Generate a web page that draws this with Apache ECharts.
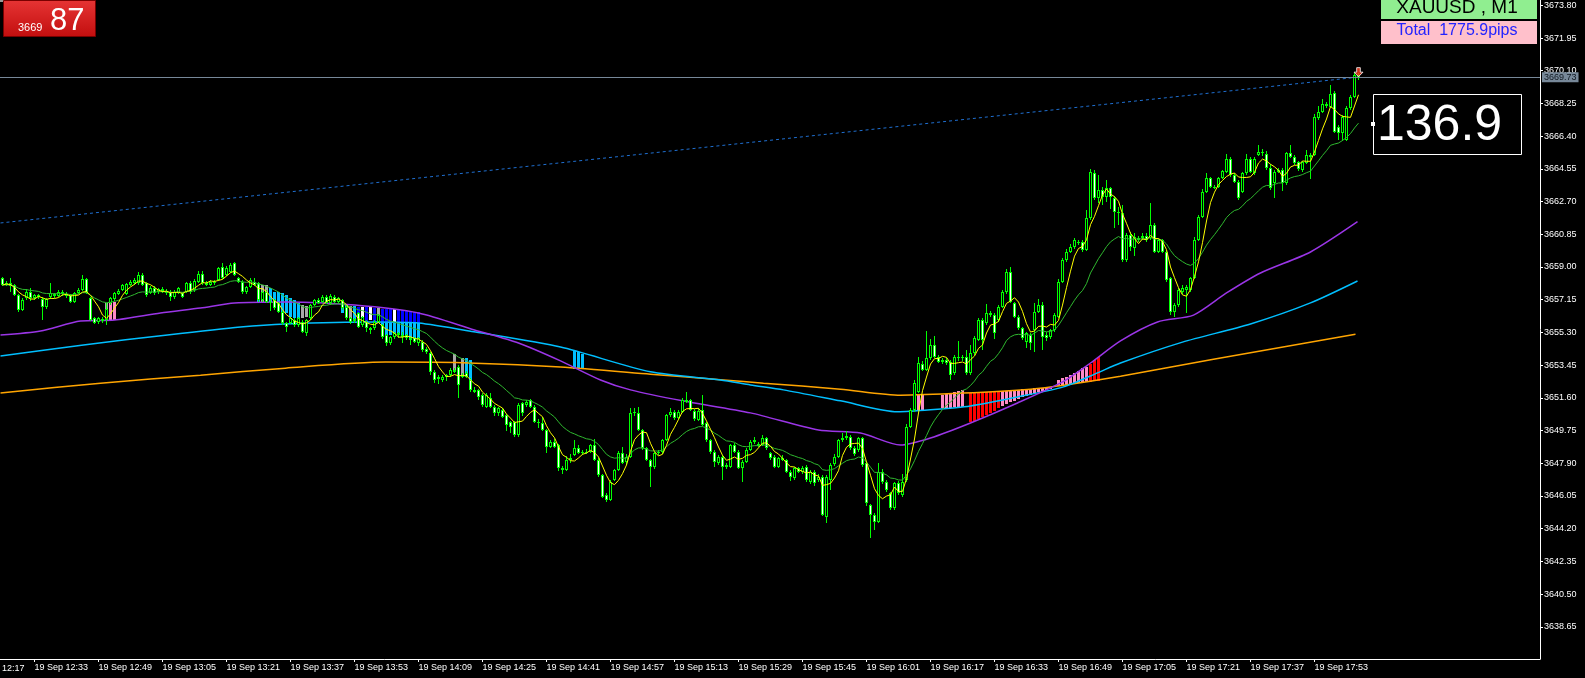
<!DOCTYPE html>
<html><head><meta charset="utf-8">
<script src="https://cdn.jsdelivr.net/npm/echarts@6/dist/echarts.min.js"></script>
<style>html,body{margin:0;padding:0;background:#000;}#c{width:1585px;height:678px;}</style>
</head><body><div id="c"></div>
<script>
// ---------- texts ----------
const symbolText = 'XAUUSD , M1';
const totalText = 'Total  1775.9pips';
const bigValueText = '136.9';
const boxPriceBig = '87';
const boxPriceSmall = '3669';
const bidPrice = 3669.73;

// ---------- axis ticks ----------
const xTickIdx = [8,24,40,56,72,88,104,120,136,152,168,184,200,216,232,248,264,280,296,312,328];
const xTickLabels = ['19 Sep 12:33','19 Sep 12:49','19 Sep 13:05','19 Sep 13:21','19 Sep 13:37','19 Sep 13:53','19 Sep 14:09','19 Sep 14:25','19 Sep 14:41','19 Sep 14:57','19 Sep 15:13','19 Sep 15:29','19 Sep 15:45','19 Sep 16:01','19 Sep 16:17','19 Sep 16:33','19 Sep 16:49','19 Sep 17:05','19 Sep 17:21','19 Sep 17:37','19 Sep 17:53'];
const leftCutLabel = '12:17';
const yTicks = [3638.65,3640.50,3642.35,3644.20,3646.05,3647.90,3649.75,3651.60,3653.45,3655.30,3657.15,3659.00,3660.85,3662.70,3664.55,3666.40,3668.25,3670.10,3671.95,3673.80];

// ---------- M1 candles [open, close, low, high], one per minute from 12:25 ----------
const candles = [
[3658.36,3657.98,3657.90,3658.45],[3658.00,3658.10,3657.90,3658.20],[3658.10,3657.90,3657.60,3658.36],[3657.98,3657.41,3657.35,3658.05],
[3657.41,3656.57,3656.45,3657.50],[3656.57,3657.13,3656.50,3657.25],[3657.23,3657.60,3657.15,3657.75],[3657.60,3657.23,3657.10,3657.80],
[3657.23,3657.41,3657.15,3657.50],[3657.41,3657.32,3657.20,3657.50],[3657.17,3656.72,3656.00,3657.30],[3656.72,3657.17,3656.65,3657.25],
[3657.32,3657.51,3657.20,3658.07],[3657.45,3657.36,3657.25,3657.55],[3657.36,3657.60,3657.30,3657.70],[3657.60,3657.45,3657.35,3657.70],
[3657.45,3657.35,3657.25,3657.60],[3657.41,3657.04,3656.95,3657.50],[3657.04,3657.51,3656.95,3657.60],[3657.51,3657.70,3657.45,3657.80],
[3657.70,3658.30,3657.65,3658.55],[3658.30,3657.51,3657.45,3658.40],[3657.23,3656.00,3655.95,3657.30],[3656.09,3655.85,3655.75,3656.15],
[3655.91,3656.09,3655.80,3656.20],[3656.05,3655.95,3655.85,3656.15],[3656.00,3656.60,3655.72,3656.94],[3656.94,3657.23,3656.85,3657.30],
[3657.17,3657.51,3657.10,3657.60],[3657.47,3657.66,3657.40,3657.75],[3657.70,3657.98,3657.65,3658.05],[3657.47,3658.04,3657.40,3658.10],
[3657.98,3658.17,3657.90,3658.25],[3658.07,3658.26,3658.00,3658.35],[3658.07,3658.55,3658.00,3658.73],[3658.55,3657.98,3657.90,3658.65],
[3658.07,3657.41,3657.30,3658.15],[3657.51,3657.79,3657.45,3657.90],[3657.79,3657.51,3657.40,3657.90],[3657.60,3657.74,3657.50,3657.80],
[3657.74,3657.62,3657.55,3657.85],[3657.66,3657.51,3657.40,3657.75],[3657.60,3657.32,3657.10,3657.70],[3657.32,3657.60,3657.20,3657.70],
[3657.51,3657.79,3657.45,3657.85],[3657.51,3657.32,3657.25,3657.60],[3657.60,3658.07,3657.55,3658.15],[3658.07,3657.60,3657.50,3658.20],
[3657.70,3658.23,3657.60,3658.30],[3658.17,3658.60,3658.10,3658.75],[3658.60,3658.07,3658.00,3658.80],[3658.07,3657.98,3657.90,3658.20],
[3657.98,3658.17,3657.90,3658.25],[3658.17,3658.07,3658.00,3658.25],[3658.26,3658.92,3658.20,3659.00],[3659.02,3658.36,3658.30,3659.20],
[3658.55,3658.92,3658.50,3659.05],[3658.73,3659.11,3658.65,3659.20],[3659.21,3658.55,3658.50,3659.30],[3658.36,3658.17,3658.10,3658.45],
[3658.17,3657.60,3657.50,3658.25],[3657.60,3657.89,3657.45,3657.95],[3657.89,3658.26,3657.80,3658.35],[3658.17,3658.00,3657.90,3658.40],
[3658.07,3657.13,3657.00,3658.15],[3657.13,3657.60,3657.00,3657.70],[3657.60,3657.04,3656.95,3657.70],[3657.04,3656.94,3656.50,3657.20],
[3657.13,3656.66,3656.55,3657.20],[3656.94,3656.47,3656.40,3657.00],[3656.47,3655.81,3655.70,3656.55],[3655.81,3655.62,3655.34,3655.90],
[3655.81,3656.09,3655.75,3656.15],[3656.00,3655.71,3655.60,3656.10],[3655.71,3656.09,3655.60,3656.15],[3655.90,3655.34,3655.25,3656.00],
[3655.24,3656.00,3655.10,3656.05],[3656.09,3656.85,3656.00,3656.90],[3656.85,3657.13,3656.80,3657.20],[3657.13,3656.98,3656.90,3657.25],
[3657.03,3657.32,3656.95,3657.40],[3657.32,3656.98,3656.90,3657.40],[3656.94,3657.37,3656.85,3657.50],[3657.32,3657.03,3656.95,3657.40],
[3657.03,3657.22,3656.95,3657.30],[3657.13,3656.66,3656.55,3657.20],[3656.75,3656.09,3656.00,3656.85],[3656.09,3655.90,3655.80,3656.20],
[3655.92,3656.04,3655.85,3656.10],[3656.37,3655.62,3655.55,3656.45],[3655.71,3656.19,3655.60,3656.25],[3655.90,3655.53,3655.30,3656.00],
[3655.53,3655.43,3655.20,3655.60],[3655.53,3655.90,3655.45,3656.00],[3655.90,3656.28,3655.85,3656.35],[3655.71,3655.05,3654.90,3655.80],
[3655.15,3654.68,3654.55,3655.20],[3654.68,3655.05,3654.60,3655.10],[3655.05,3655.24,3654.95,3655.30],[3655.24,3655.15,3655.00,3655.30],
[3655.15,3655.05,3654.70,3655.30],[3655.15,3654.96,3654.85,3655.20],[3654.96,3654.87,3654.60,3655.05],[3654.96,3654.77,3654.70,3655.05],
[3654.68,3654.96,3654.55,3655.05],[3654.77,3654.30,3654.20,3654.85],[3654.39,3654.21,3654.10,3654.50],[3654.11,3653.08,3652.90,3654.20],
[3653.08,3652.60,3652.45,3653.15],[3652.79,3652.65,3652.40,3652.90],[3652.60,3652.79,3652.50,3652.90],[3652.79,3652.89,3652.55,3652.95],
[3652.89,3653.17,3652.80,3653.30],[3653.17,3653.08,3653.00,3653.30],[3653.36,3652.30,3651.57,3653.45],[3652.79,3652.89,3652.70,3653.00],
[3652.98,3652.79,3652.70,3653.10],[3652.60,3652.04,3651.95,3652.70],[3652.04,3651.94,3651.85,3652.20],[3652.04,3651.66,3651.50,3652.10],
[3651.76,3651.19,3651.10,3651.85],[3651.10,3651.76,3651.00,3651.85],[3651.57,3651.10,3651.00,3651.90],[3651.10,3650.72,3650.60,3651.20],
[3650.72,3651.00,3650.60,3651.10],[3650.91,3650.53,3650.45,3651.00],[3650.62,3650.06,3649.70,3650.70],[3650.25,3649.96,3649.60,3650.30],
[3650.25,3649.49,3649.40,3650.30],[3649.49,3651.19,3649.40,3651.30],[3651.28,3650.72,3650.60,3651.35],[3651.19,3651.38,3651.10,3651.50],
[3651.47,3651.10,3651.00,3651.55],[3651.10,3650.25,3650.15,3651.20],[3650.25,3650.15,3649.90,3650.40],[3650.15,3649.78,3649.70,3650.50],
[3649.78,3648.83,3648.50,3649.85],[3648.83,3649.12,3648.75,3649.20],[3649.12,3648.83,3648.75,3649.30],[3648.93,3647.61,3647.45,3649.00],
[3647.61,3647.52,3647.30,3647.75],[3647.52,3648.09,3647.45,3648.30],[3648.09,3648.18,3647.90,3648.40],[3648.37,3648.74,3648.30,3649.20],
[3648.74,3648.46,3648.40,3648.95],[3648.46,3648.56,3648.35,3648.65],[3648.56,3648.46,3648.40,3648.70],[3648.56,3648.93,3648.50,3649.00],
[3648.93,3648.09,3648.00,3649.30],[3648.09,3647.24,3647.15,3648.20],[3647.24,3646.01,3645.95,3647.30],[3646.11,3645.82,3645.70,3646.20],
[3645.82,3646.86,3645.75,3646.95],[3646.95,3647.52,3646.90,3647.60],[3647.52,3648.46,3647.45,3648.60],[3648.46,3647.90,3647.85,3648.80],
[3647.99,3648.27,3647.80,3648.40],[3648.27,3650.72,3648.20,3651.00],[3650.72,3650.82,3650.60,3651.00],[3650.72,3649.78,3649.70,3651.10],
[3649.78,3648.74,3648.65,3649.85],[3648.74,3648.09,3648.00,3648.80],[3648.09,3647.71,3646.58,3648.15],[3647.71,3648.46,3647.60,3648.55],
[3648.46,3648.56,3648.35,3648.65],[3648.56,3649.22,3648.45,3649.30],[3649.22,3650.63,3649.15,3650.70],[3650.63,3650.82,3650.50,3651.00],
[3650.78,3650.44,3650.35,3650.90],[3650.44,3650.78,3650.35,3650.90],[3650.82,3651.48,3650.75,3651.60],[3651.48,3651.38,3651.30,3651.95],
[3651.48,3650.91,3650.85,3651.55],[3650.88,3650.39,3650.30,3650.95],[3650.35,3650.88,3650.30,3651.00],[3650.91,3650.06,3650.00,3651.76],
[3650.16,3649.22,3649.10,3650.25],[3649.22,3648.56,3648.45,3649.30],[3648.56,3647.99,3647.70,3648.65],[3647.90,3648.27,3647.80,3648.35],
[3648.27,3647.71,3646.95,3648.35],[3647.71,3647.80,3647.60,3647.90],[3647.71,3648.93,3647.65,3649.00],[3648.93,3648.56,3648.50,3649.05],
[3648.56,3647.61,3647.55,3648.65],[3647.61,3647.99,3646.86,3648.10],[3647.99,3648.65,3647.90,3648.75],[3648.65,3649.12,3648.60,3649.20],
[3649.12,3649.22,3649.00,3649.40],[3649.00,3648.88,3648.80,3649.10],[3648.93,3649.31,3648.85,3649.50],[3649.31,3648.74,3648.65,3649.40],
[3648.46,3648.18,3648.10,3648.55],[3648.27,3647.71,3647.65,3648.35],[3647.71,3648.18,3647.65,3648.25],[3648.18,3648.09,3648.00,3648.35],
[3648.09,3647.43,3647.35,3648.15],[3647.43,3647.14,3646.90,3647.50],[3647.05,3647.61,3646.95,3647.70],[3647.61,3647.43,3647.35,3647.70],
[3647.43,3647.61,3647.30,3647.75],[3647.71,3646.95,3646.85,3647.80],[3646.86,3647.43,3646.75,3647.50],[3647.43,3646.77,3646.60,3647.50],
[3646.95,3647.14,3646.85,3647.30],[3647.14,3644.97,3644.90,3647.25],[3644.88,3647.14,3644.50,3647.25],[3646.95,3647.80,3646.40,3647.90],
[3647.85,3648.27,3647.75,3648.40],[3648.27,3649.21,3648.20,3649.30],[3649.21,3649.31,3649.10,3649.60],[3649.31,3649.44,3649.20,3649.70],
[3649.40,3648.74,3648.65,3649.50],[3648.74,3648.40,3648.30,3648.85],[3648.65,3649.31,3648.55,3649.40],[3649.31,3647.80,3647.70,3649.40],
[3647.89,3645.63,3645.50,3648.00],[3645.54,3644.97,3643.65,3645.60],[3644.97,3644.59,3644.10,3645.10],[3644.59,3647.42,3644.50,3647.89],
[3647.42,3646.86,3646.75,3647.60],[3646.86,3646.38,3646.30,3646.95],[3646.20,3645.35,3645.25,3646.30],[3645.35,3646.76,3645.25,3646.85],
[3646.76,3646.20,3646.10,3646.90],[3646.10,3646.86,3646.00,3647.30],[3646.95,3649.97,3646.85,3650.10],[3649.97,3650.91,3649.90,3651.00],
[3650.91,3652.42,3650.80,3652.60],[3651.95,3653.55,3651.85,3653.90],[3653.51,3653.17,3653.10,3653.70],[3653.17,3653.83,3653.10,3655.40],
[3653.83,3654.59,3653.75,3654.90],[3654.59,3653.93,3653.85,3655.10],[3653.93,3653.64,3653.55,3654.05],[3653.64,3653.74,3653.50,3653.85],
[3653.74,3653.55,3653.45,3653.85],[3653.64,3652.89,3652.60,3653.75],[3652.98,3653.93,3652.90,3654.00],[3653.93,3653.83,3653.70,3654.80],
[3653.83,3653.93,3653.70,3654.05],[3653.93,3652.98,3652.90,3654.30],[3652.98,3654.12,3652.90,3654.60],[3654.12,3654.96,3654.05,3655.10],
[3654.87,3656.00,3654.80,3656.10],[3656.00,3654.87,3654.30,3656.10],[3655.81,3656.38,3655.70,3656.90],[3656.28,3656.38,3656.20,3656.50],
[3656.28,3655.25,3654.90,3656.40],[3656.00,3656.75,3655.90,3656.85],[3656.75,3657.60,3656.70,3657.70],[3657.60,3658.73,3657.50,3658.90],
[3658.73,3657.04,3656.95,3659.00],[3656.94,3656.19,3656.10,3657.00],[3656.19,3655.53,3655.45,3656.30],[3655.53,3654.96,3654.85,3655.60],
[3654.77,3655.25,3654.40,3655.35],[3655.15,3654.68,3654.30,3655.25],[3655.43,3656.47,3654.20,3656.94],[3656.47,3656.85,3656.40,3657.20],
[3656.85,3655.06,3654.30,3657.00],[3655.15,3654.96,3654.80,3655.30],[3655.06,3655.43,3654.90,3655.50],[3655.43,3656.28,3655.35,3656.40],
[3656.19,3658.17,3656.10,3658.30],[3658.17,3659.39,3658.10,3659.50],[3659.39,3659.87,3659.30,3660.00],[3659.87,3660.11,3659.80,3660.30],
[3660.11,3660.53,3660.00,3660.65],[3660.43,3660.34,3660.25,3660.55],[3660.43,3659.96,3659.85,3660.55],[3659.96,3661.75,3659.90,3662.22],
[3661.75,3664.39,3661.65,3664.55],[3664.30,3662.88,3662.80,3664.50],[3662.88,3663.35,3662.60,3664.20],[3663.35,3662.98,3662.50,3663.50],
[3662.98,3663.45,3662.70,3663.90],[3663.45,3662.98,3662.30,3663.55],[3662.88,3662.13,3661.20,3663.00],[3662.13,3662.03,3661.40,3662.40],
[3662.03,3659.40,3659.30,3662.50],[3659.40,3660.81,3659.30,3660.90],[3660.81,3660.15,3659.90,3661.00],[3660.06,3660.71,3659.60,3660.90],
[3660.62,3660.53,3660.40,3660.75],[3660.62,3660.75,3660.50,3660.90],[3660.75,3660.53,3660.40,3660.90],[3660.62,3661.37,3660.50,3662.60],
[3661.37,3659.87,3659.80,3661.50],[3659.87,3660.53,3659.80,3660.60],[3660.53,3659.87,3659.80,3660.60],[3659.87,3658.26,3658.15,3659.95],
[3658.36,3656.47,3656.30,3658.45],[3656.47,3656.85,3656.20,3656.95],[3656.85,3657.70,3656.75,3657.80],[3657.60,3657.83,3657.50,3658.00],
[3657.70,3657.89,3656.40,3658.00],[3657.70,3658.36,3657.60,3658.45],[3658.36,3660.53,3658.30,3660.70],[3660.53,3661.85,3660.45,3661.95],
[3661.85,3663.26,3661.75,3663.40],[3663.26,3664.01,3663.20,3664.30],[3664.01,3663.54,3663.45,3664.10],[3663.54,3663.49,3663.40,3663.65],
[3663.54,3664.01,3663.45,3664.10],[3664.01,3664.43,3663.95,3664.50],[3664.39,3665.11,3664.30,3665.40],[3665.11,3664.20,3664.10,3665.20],
[3664.20,3663.83,3663.75,3664.30],[3663.83,3662.88,3662.80,3663.90],[3663.26,3664.30,3663.20,3664.40],[3664.30,3665.11,3664.20,3665.40],
[3665.11,3664.39,3664.30,3665.20],[3664.30,3665.11,3664.20,3665.20],[3665.33,3665.48,3665.25,3665.90],[3665.48,3665.43,3665.30,3665.70],
[3665.38,3664.58,3664.50,3665.55],[3664.58,3663.45,3663.35,3664.80],[3663.73,3664.39,3662.90,3664.50],[3664.39,3664.49,3664.30,3664.60],
[3664.49,3663.73,3663.30,3664.60],[3663.73,3665.43,3663.65,3665.50],[3665.43,3665.24,3665.15,3665.90],[3665.24,3664.86,3664.75,3665.35],
[3664.92,3664.54,3664.45,3665.00],[3664.49,3664.92,3664.40,3665.00],[3664.86,3665.33,3664.80,3665.60],[3665.33,3665.24,3664.00,3665.45],
[3665.33,3667.50,3665.25,3667.65],[3667.41,3667.79,3667.30,3668.10],[3667.79,3668.20,3667.70,3668.50],[3668.20,3668.12,3668.00,3668.35],
[3668.07,3668.77,3668.00,3669.29],[3668.82,3666.65,3666.55,3668.95],[3666.94,3666.56,3666.20,3667.05],[3666.56,3667.50,3666.10,3667.60],
[3666.18,3667.97,3666.10,3668.10],[3667.97,3668.63,3667.90,3668.75],[3668.63,3669.86,3668.55,3669.95],[3669.86,3669.73,3669.60,3669.97]
];

// ---------- slow moving averages [barIndex, price] ----------
const purpleMA = [[-0.5,3655.15],[9.5,3655.38],[19.5,3655.94],[28,3656.00],[39.5,3656.40],[49.5,3656.68],[58,3656.96],[71,3657.02],[88,3656.85],[104,3656.40],[118,3655.44],[129,3654.70],[139.5,3653.69],[149.5,3652.61],[157,3652.05],[170,3651.43],[187,3650.75],[204,3649.78],[214.5,3649.61],[224.5,3648.93],[232,3649.33],[242,3650.18],[253.75,3651.31],[265,3652.50],[272,3653.57],[279.5,3654.82],[288.75,3655.89],[297.75,3656.28],[306,3657.53],[314.5,3658.66],[327,3659.85],[338.75,3661.56]];
const cyanMA = [[-0.5,3653.97],[20.25,3654.59],[41.25,3655.16],[59.5,3655.61],[70.75,3655.78],[93.25,3655.89],[104,3655.83],[118.25,3655.32],[139.5,3654.47],[162,3653.07],[179.5,3652.61],[187,3652.33],[195.25,3652.05],[209.5,3651.43],[223.75,3650.81],[232,3650.92],[242,3651.14],[253.75,3651.65],[265.25,3652.22],[273.75,3653.01],[279.5,3653.57],[295,3654.75],[312,3655.78],[327,3656.97],[338.75,3658.21]];
const orangeMA = [[-0.5,3651.87],[24.5,3652.43],[49.5,3652.88],[70.75,3653.28],[95.75,3653.62],[118.25,3653.56],[139.5,3653.34],[162,3652.94],[180.25,3652.61],[190.25,3652.43],[209.5,3652.09],[224.5,3651.75],[240.25,3651.87],[257,3652.09],[265.25,3652.31],[279.5,3652.82],[302.75,3653.78],[338.25,3655.20]];
const trendLine = [[-0.5,3661.49],[339,3669.74]];
const arrowMark = [[339,3670.02]];

// ---------- indicator histogram segments [barIndex, top, bottom, colourKey] ----------
const hist = [
[26,3656.94,3655.96,'g'],[27,3656.98,3655.96,'p'],[28,3657.04,3656.00,'p'],
[64,3658.07,3657.00,'c'],[65,3657.98,3657.04,'g'],[66,3657.98,3657.04,'g'],[67,3657.79,3657.00,'c'],[68,3657.60,3657.00,'c'],
[69,3657.60,3656.47,'c'],[70,3657.51,3655.81,'c'],[71,3657.41,3656.37,'c'],[72,3657.22,3656.19,'c'],[73,3657.13,3656.09,'c'],
[74,3656.94,3656.00,'c'],[75,3656.85,3656.09,'g'],[76,3656.79,3656.19,'g'],
[85,3656.85,3656.37,'c'],[86,3656.85,3656.19,'c'],[87,3656.79,3656.09,'g'],[88,3656.79,3656.00,'c'],[89,3656.75,3655.90,'b'],
[90,3656.75,3656.09,'w'],[91,3656.71,3655.90,'b'],[92,3656.71,3656.00,'w'],[93,3656.68,3655.85,'b'],[94,3656.68,3655.90,'g'],
[95,3656.64,3655.81,'b'],[96,3656.64,3655.81,'b'],[97,3656.60,3655.81,'b'],[98,3656.60,3655.81,'w'],[99,3656.56,3655.81,'b'],
[100,3656.56,3655.81,'b'],[101,3656.53,3655.81,'b'],[102,3656.51,3655.81,'b'],[103,3656.47,3655.81,'b'],[104,3656.43,3655.81,'b'],
[95,3655.81,3655.15,'c'],[96,3655.81,3655.05,'c'],[97,3655.81,3655.15,'c'],[98,3655.81,3655.24,'c'],[99,3655.81,3655.24,'c'],
[100,3655.81,3655.15,'c'],[101,3655.81,3655.05,'c'],[102,3655.81,3654.96,'c'],[103,3655.81,3654.87,'c'],[104,3655.81,3654.77,'c'],
[113,3654.07,3653.10,'g'],[115,3653.83,3652.80,'g'],[116,3653.83,3652.90,'c'],[117,3653.75,3652.60,'c'],
[143,3654.25,3653.25,'c'],[144,3654.22,3653.25,'c'],[145,3654.10,3653.30,'c'],
[229,3651.76,3650.87,'p'],[230,3651.76,3650.87,'p'],
[235,3651.76,3651.00,'p'],[236,3651.80,3651.02,'p'],[237,3651.85,3651.04,'p'],[238,3651.91,3651.06,'p'],[239,3651.98,3651.08,'p'],[240,3652.04,3651.10,'p'],
[242,3651.85,3650.25,'r'],[243,3651.85,3650.31,'r'],[244,3651.89,3650.38,'r'],[245,3651.89,3650.53,'r'],[246,3651.91,3650.63,'r'],
[247,3651.93,3650.72,'r'],[248,3651.95,3650.87,'r'],[249,3651.97,3651.00,'r'],
[250,3651.98,3651.14,'p'],[251,3652.00,3651.25,'p'],[252,3652.02,3651.34,'p'],[253,3652.04,3651.44,'p'],[254,3652.06,3651.53,'p'],
[255,3652.08,3651.63,'p'],[256,3652.10,3651.70,'p'],[257,3652.12,3651.78,'p'],[258,3652.14,3651.85,'p'],[259,3652.15,3651.91,'p'],
[260,3652.18,3651.97,'p'],[261,3652.19,3652.04,'p'],[262,3652.23,3652.12,'p'],
[264,3652.61,3652.27,'p'],[265,3652.70,3652.29,'p'],[266,3652.80,3652.31,'p'],[267,3652.89,3652.34,'p'],[268,3652.98,3652.38,'p'],
[269,3653.13,3652.42,'p'],[270,3653.27,3652.46,'p'],[271,3653.36,3652.49,'p'],
[272,3653.51,3652.51,'r'],[273,3653.74,3652.53,'r'],[274,3653.93,3652.57,'r']
];
const histColors = {c:'#00bfff', g:'#a8a8a8', p:'#ff8ac6', r:'#ff0000', b:'#0000ff', w:'#ffffff'};

// ---------- build ----------
const candleData = candles.map((b, i) => [i, b[0], b[1], b[2], b[3]]);
const closes = candles.map(b => b[1]);
const ma5 = closes.map((c, i) => { const s = Math.max(0, i - 4); let sum = 0; for (let k = s; k <= i; k++) sum += closes[k]; return [i, sum / (i - s + 1)]; });
let ema = closes[0]; const kE = 2 / 21;
const ema20 = closes.map((c, i) => { ema = i === 0 ? c : ema + kE * (c - ema); return [i, ema]; });

const FONT = '"Liberation Sans", Arial, sans-serif';
const chart = echarts.init(document.getElementById('c'), null, {renderer: 'canvas'});

const option = {
  backgroundColor: '#000',
  animation: false,
  grid: {left: 0, top: 0, width: 1540, height: 659},
  xAxis: {
    type: 'value', min: -0.625, max: 384.375,
    axisLine: {show: true, onZero: false, lineStyle: {color: '#ffffff', width: 1}},
    axisTick: {show: true, customValues: xTickIdx, length: 3, lineStyle: {color: '#ffffff'}},
    axisLabel: {customValues: xTickIdx, formatter: v => xTickLabels[xTickIdx.indexOf(v)] || '', color: '#ffffff', fontSize: 9, fontFamily: FONT, align: 'left', margin: 4},
    splitLine: {show: false}
  },
  yAxis: {
    type: 'value', position: 'right', min: 3636.83, max: 3674.10,
    axisLine: {show: true, onZero: false, lineStyle: {color: '#ffffff', width: 1}},
    axisTick: {show: true, customValues: yTicks, length: 3, lineStyle: {color: '#ffffff'}},
    axisLabel: {customValues: yTicks, formatter: v => v.toFixed(2), color: '#ffffff', fontSize: 9, fontFamily: FONT, margin: 4},
    splitLine: {show: false}
  },
  series: [
    {
      type: 'custom', name: 'hist', z: 1, clip: true,
      data: hist.map(h => [h[0], h[1], h[2]]),
      encode: {x: 0, y: [1, 2]},
      renderItem: (params, api) => {
        const i = api.value(0);
        const p1 = api.coord([i, api.value(1)]), p2 = api.coord([i, api.value(2)]);
        const x = Math.floor(p1[0]);
        const top = Math.round(Math.min(p1[1], p2[1])), bot = Math.round(Math.max(p1[1], p2[1]));
        return {type: 'rect', shape: {x: x - 1, y: top, width: 3, height: Math.max(1, bot - top)}, style: {fill: histColors[hist[params.dataIndex][3]]}};
      }
    },
    {type: 'line', name: 'MA slow 1', data: orangeMA, z: 2, showSymbol: false, symbol: 'none', smooth: 0.25, lineStyle: {color: '#ffa500', width: 1.5}},
    {type: 'line', name: 'MA slow 2', data: cyanMA, z: 2, showSymbol: false, symbol: 'none', smooth: 0.25, lineStyle: {color: '#00bfff', width: 1.5}},
    {type: 'line', name: 'MA slow 3', data: purpleMA, z: 2, showSymbol: false, symbol: 'none', smooth: 0.25, lineStyle: {color: '#9a35e6', width: 1.5}},
    {
      type: 'line', name: 'trend', data: trendLine, z: 2, showSymbol: false, symbol: 'none',
      lineStyle: {color: '#1f6fd0', width: 1, type: [3, 3]},
      markLine: {
        silent: true, symbol: ['none', 'none'], animation: false,
        data: [{yAxis: bidPrice}],
        lineStyle: {color: '#778899', type: 'solid', width: 1},
        label: {show: true, position: 'end', formatter: bidPrice.toFixed(2), color: '#101820', backgroundColor: '#778899', fontSize: 9, fontFamily: FONT, padding: [1, 2, 0, 2], distance: 2}
      }
    },
    {
      type: 'custom', name: 'candles', z: 3, clip: true,
      data: candleData, encode: {x: 0, y: [1, 2, 3, 4]},
      renderItem: (params, api) => {
        const i = api.value(0), o = api.value(1), c = api.value(2), l = api.value(3), h = api.value(4);
        const po = api.coord([i, o]), pc = api.coord([i, c]), pl = api.coord([i, l]), ph = api.coord([i, h]);
        const x = Math.floor(po[0]) + 0.5;
        let top = Math.round(Math.min(po[1], pc[1])), bot = Math.round(Math.max(po[1], pc[1]));
        if (bot - top < 1) bot = top + 1;
        const children = [
          {type: 'line', shape: {x1: x, y1: Math.round(ph[1]), x2: x, y2: Math.round(pl[1])}, style: {stroke: '#00ff00', lineWidth: 1}},
          {type: 'rect', shape: {x: x - 1.5, y: top, width: 3, height: bot - top}, style: {fill: '#00ff00'}}
        ];
        if (bot - top >= 3) children.push({type: 'rect', shape: {x: x - 0.5, y: top + 1, width: 1, height: bot - top - 2}, style: {fill: c >= o ? '#000000' : '#ffffff'}});
        return {type: 'group', children};
      }
    },
    {type: 'line', name: 'EMA20', data: ema20, z: 4, showSymbol: false, symbol: 'none', lineStyle: {color: '#2fb82f', width: 1}},
    {type: 'line', name: 'MA5', data: ma5, z: 4, showSymbol: false, symbol: 'none', lineStyle: {color: '#ffff00', width: 1}},
    {
      type: 'scatter', name: 'arrow', data: arrowMark, z: 6,
      symbol: 'path://M3,0 L7,0 L7,5 L10,5 L5,10 L0,5 L3,5 Z', symbolSize: [9, 9],
      itemStyle: {color: '#ff3d1f', borderColor: '#ffffff', borderWidth: 1}
    }
  ],
  graphic: [
    {type: 'rect', shape: {x: 0, y: 0, width: 52, height: 2}, style: {fill: '#9a9a9a'}, z: 20},
    {type: 'rect', shape: {x: 3.5, y: 0.5, width: 92, height: 36}, style: {fill: new echarts.graphic.LinearGradient(0, 0, 0, 1, [{offset: 0, color: '#e63434'}, {offset: 1, color: '#c20e0e'}]), stroke: '#7a0000', lineWidth: 1}, z: 20},
    {type: 'text', x: 18, y: 28, style: {text: boxPriceSmall, fill: '#ffffff', font: '11px ' + FONT, verticalAlign: 'middle'}, z: 21},
    {type: 'text', x: 50, y: 21, style: {text: boxPriceBig, fill: '#ffffff', font: '31px ' + FONT, verticalAlign: 'middle'}, z: 21},
    {type: 'rect', shape: {x: 1381, y: 0, width: 156, height: 19}, style: {fill: '#90ee90'}, z: 20},
    {type: 'text', x: 1457, y: 8, style: {text: symbolText, fill: '#000000', font: '19px ' + FONT, align: 'center', verticalAlign: 'middle'}, z: 21},
    {type: 'rect', shape: {x: 1381, y: 21, width: 156, height: 23}, style: {fill: '#ffc0cb'}, z: 20},
    {type: 'text', x: 1457, y: 31, style: {text: totalText, fill: '#2323ff', font: '16px ' + FONT, align: 'center', verticalAlign: 'middle'}, z: 21},
    {type: 'rect', shape: {x: 1373.5, y: 94.5, width: 148, height: 60}, style: {fill: 'rgba(0,0,0,0)', stroke: '#ffffff', lineWidth: 1}, z: 20},
    {type: 'rect', shape: {x: 1371, y: 122, width: 4, height: 4}, style: {fill: '#ffffff'}, z: 21},
    {type: 'text', x: 1377, y: 126, style: {text: bigValueText, fill: '#ffffff', font: '50px ' + FONT, verticalAlign: 'middle'}, z: 21},
    {type: 'text', x: 2, y: 669, style: {text: leftCutLabel, fill: '#ffffff', font: '9px ' + FONT, verticalAlign: 'middle'}, z: 21}
  ]
};
chart.setOption(option);
</script>
</body></html>
